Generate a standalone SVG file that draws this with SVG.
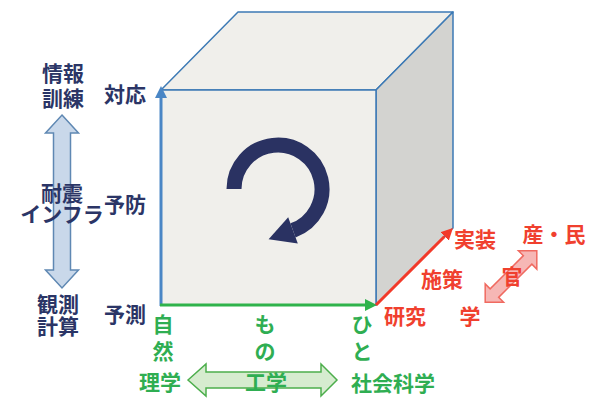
<svg xmlns="http://www.w3.org/2000/svg" width="589" height="399" viewBox="0 0 589 399">
<style>
text{font-family:"Noto Sans CJK JP","Noto Sans CJK SC",sans-serif;font-weight:bold;font-size:21px;text-anchor:middle;dominant-baseline:central}
.nv{fill:#2b3566}
.gr{fill:#2fae52}
.rd{fill:#f0402e}
.face{stroke:#3d7ab5;stroke-width:1.5;stroke-linejoin:round}
</style>
<defs>
<marker id="mb" viewBox="0 0 10 10" refX="0" refY="5" markerWidth="4" markerHeight="4" orient="auto"><path d="M0,0L10,5L0,10z" fill="#4a86c5"/></marker>
<marker id="mg" viewBox="0 0 10 10" refX="0" refY="5" markerWidth="4" markerHeight="4" orient="auto"><path d="M0,0L10,5L0,10z" fill="#2fb34b"/></marker>
<marker id="mr" viewBox="0 0 10 10" refX="0" refY="5" markerWidth="4" markerHeight="4" orient="auto"><path d="M0,0L10,5L0,10z" fill="#f23a2a"/></marker>
</defs>
<rect width="589" height="399" fill="#ffffff"/>
<g id="cube">
<polygon class="face" points="161,90 238,12 453,12 376,90" fill="#f0efeb"/>
<polygon class="face" points="376,90 453,12 453,228 376,305" fill="#d3d3d0"/>
<polygon class="face" points="161,90 376,90 376,305 161,305" fill="#f0efeb"/>
</g>
<g id="cycle">
<path d="M234,189 A44,44 0 1 1 293,230.4" fill="none" stroke="#2a3262" stroke-width="15"/>
<polygon points="297.8,243.6 268.6,239.3 288.2,217.2" fill="#2a3262"/>
</g>
<g id="connectors">
<line x1="161" y1="306" x2="161" y2="98" stroke="#4a86c5" stroke-width="3" marker-end="url(#mb)"/>
<line x1="160" y1="305" x2="365" y2="305" stroke="#2fb34b" stroke-width="3" marker-end="url(#mg)"/>
<line x1="376" y1="305" x2="444.5" y2="236.5" stroke="#f23a2a" stroke-width="3" marker-end="url(#mr)"/>
</g>
<g id="arrow-vertical">
<polygon points="62,115 78.5,133 70.5,133 70.5,270 78.5,270 62,288 45.5,270 53.5,270 53.5,133 45.5,133" fill="#c9d8ea" stroke="#5f88b3" stroke-width="1.5"/>
</g>
<g id="arrow-horizontal">
<polygon points="188,380 206,364 206,372 321,372 321,364 337,380 321,396 321,388 206,388 206,396" fill="#d6eccf" stroke="#4cae4c" stroke-width="1.5"/>
</g>
<g id="arrow-diagonal">
<polygon transform="translate(511,276.5) rotate(-45)" points="-36.5,0 -23.5,-13 -23.5,-6 23.5,-6 23.5,-13 36.5,0 23.5,13 23.5,6 -23.5,6 -23.5,13" fill="#f6b7b5" stroke="#f06a60" stroke-width="1.5"/>
</g>
<g id="labels-left">
<text class="nv" x="63" y="72">情報</text>
<text class="nv" x="63" y="97">訓練</text>
<text class="nv" x="125" y="93">対応</text>
<text class="nv" x="62" y="192">耐震</text>
<text class="nv" x="62" y="213">インフラ</text>
<text class="nv" x="125" y="203">予防</text>
<text class="nv" x="58" y="303">観測</text>
<text class="nv" x="58" y="325">計算</text>
<text class="nv" x="125" y="313">予測</text>
</g>
<g id="labels-bottom">
<text class="gr" x="163" y="323">自</text>
<text class="gr" x="163" y="350">然</text>
<text class="gr" x="265" y="323">も</text>
<text class="gr" x="265" y="350">の</text>
<text class="gr" x="362" y="323">ひ</text>
<text class="gr" x="362" y="350">と</text>
<text class="gr" x="160" y="381">理学</text>
<text class="gr" x="266" y="381">工学</text>
<text class="gr" x="393" y="382">社会科学</text>
</g>
<g id="labels-right">
<text class="rd" x="475" y="238">実装</text>
<text class="rd" x="554" y="233">産・民</text>
<text class="rd" x="442" y="278">施策</text>
<text class="rd" x="512" y="275">官</text>
<text class="rd" x="405" y="315">研究</text>
<text class="rd" x="470" y="315">学</text>
</g>
</svg>
